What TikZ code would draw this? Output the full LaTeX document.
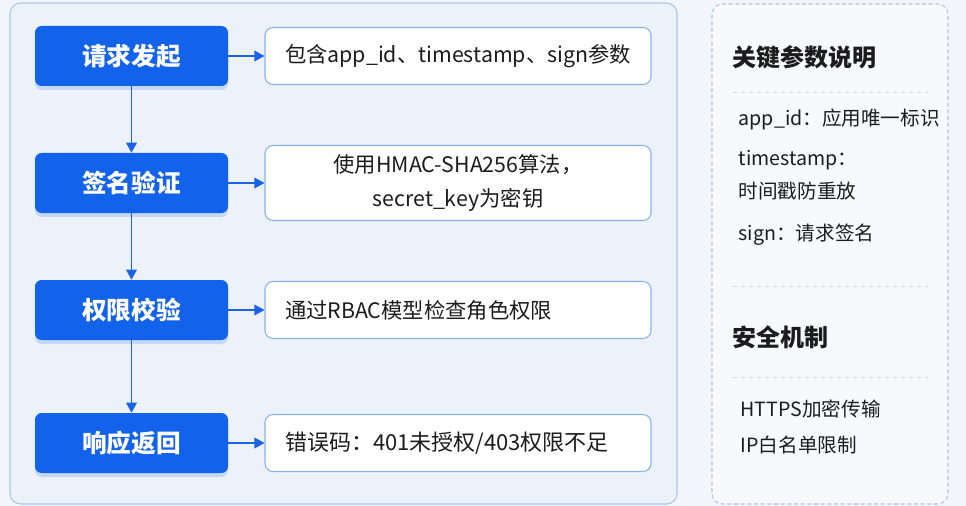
\documentclass[tikz,border=0pt]{standalone}
\usepackage{fontspec}
\setmainfont{Noto Sans CJK SC}
\usetikzlibrary{arrows.meta,positioning,shadows}
\definecolor{flowblue}{HTML}{1262EB}
\definecolor{arrowblue}{HTML}{1D63E6}
\definecolor{pagebg}{HTML}{F2F5F9}
\definecolor{panelfill}{HTML}{EDF2FA}
\definecolor{panelline}{HTML}{A9C6F1}
\definecolor{boxline}{HTML}{86B2F2}
\definecolor{notefill}{HTML}{F8F9FC}
\definecolor{noteline}{HTML}{B2C2E2}
\definecolor{inktext}{HTML}{1C1C1C}

\begin{document}
\begin{tikzpicture}[x=0.75pt,y=-0.75pt,
  stage/.style={fill=flowblue,rounded corners=5pt,minimum width=144.75pt,minimum height=45pt,
    text=white,font=\bfseries\fontsize{18.5}{22}\selectfont,
    drop shadow={opacity=0.18,fill=flowblue,shadow xshift=0pt,shadow yshift=-3pt}},
  detail/.style={draw=boxline,line width=0.8pt,fill=white,rounded corners=6pt,
    minimum height=42.75pt,inner xsep=15pt,text width=259.5pt,align=left,
    text=inktext,font=\fontsize{16}{25}\selectfont},
  heading/.style={anchor=west,text=inktext,font=\bfseries\fontsize{18}{22}\selectfont},
  item/.style={anchor=west,text=inktext,align=left,font=\fontsize{14.7}{25}\selectfont},
  rule/.style={draw=gray!30,dashed,line width=0.5pt}]
\useasboundingbox (0,0) rectangle (966,506);
\fill[pagebg] (0,0) rectangle (966,506);
% panels
\draw[panelline,fill=panelfill,line width=0.8pt,rounded corners=8pt] (10,3) rectangle (677,504);
\draw[noteline,fill=notefill,line width=0.8pt,dash pattern=on 3pt off 2pt,rounded corners=8pt] (712,4) rectangle (948,504);
% flow
\node[stage] (s1) at (131.5,56) {请求发起};
\node[stage] (s2) at (131.5,183) {签名验证};
\node[stage] (s3) at (131.5,310) {权限校验};
\node[stage] (s4) at (131.5,443) {响应返回};
\node[detail] (d1) at (458,56) {包含app\_id、timestamp、sign参数};
\node[detail,minimum height=56.25pt,align=center] (d2) at (458,183) {使用HMAC-SHA256算法，\\secret\_key为密钥};
\node[detail] (d3) at (458,310) {通过RBAC模型检查角色权限};
\node[detail,font=\fontsize{16.5}{25}\selectfont] (d4) at (458,443) {错误码：401未授权/403权限不足};
\path[-{Triangle[length=7.5pt,width=8pt]},color=arrowblue,line width=1pt]
(s1.east) edge (d1.west)
(s2.east) edge (d2.west)
(s3.east) edge (d3.west)
(s4.east) edge (d4.west)
(s1.south) edge (s2.north)
(s2.south) edge (s3.north)
(s3.south) edge (s4.north);
% notes
\node[heading] (t1) at (728,57) {关键参数说明};
\draw[rule] (733,92) -- (928,92);
\node[item] (n1) at (734,119) {app\_id：应用唯一标识};
\node[item] (n2) at (734,175) {timestamp：\\时间戳防重放};
\node[item] (n3) at (734,235) {sign：请求签名};
\draw[rule] (733,286) -- (928,286);
\node[heading] (t2) at (728,337) {安全机制};
\draw[rule] (733,377) -- (928,377);
\node[item] (n4) at (736,409) {HTTPS加密传输};
\node[item] (n5) at (736,445) {IP白名单限制};
\end{tikzpicture}
\end{document}
